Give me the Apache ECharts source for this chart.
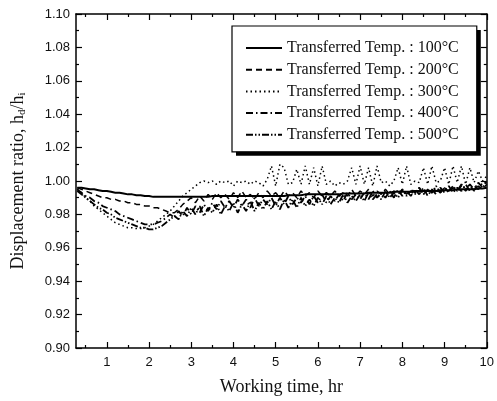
<!DOCTYPE html>
<html>
<head>
<meta charset="utf-8">
<script src="https://cdn.jsdelivr.net/npm/echarts@6/dist/echarts.min.js"></script>
<style>
  html, body { margin: 0; padding: 0; background: #fff; }
  #chart { width: 497px; height: 401px; }
</style>
</head>
<body>
<div id="chart"></div>
<script>
// working time, hr
var hours = [
  0.3, 0.4, 0.5, 0.6, 0.7, 0.8, 0.9,
  1.0, 1.1, 1.2, 1.3, 1.4, 1.5, 1.6, 1.7, 1.8, 1.9,
  2.0, 2.1, 2.2, 2.3, 2.4, 2.5, 2.6, 2.7, 2.8, 2.9,
  3.0, 3.1, 3.2, 3.3, 3.4, 3.5, 3.6, 3.7, 3.8, 3.9,
  4.0, 4.1, 4.2, 4.3, 4.4, 4.5, 4.6, 4.7, 4.8, 4.9,
  5.0, 5.1, 5.2, 5.3, 5.4, 5.5, 5.6, 5.7, 5.8, 5.9,
  6.0, 6.1, 6.2, 6.3, 6.4, 6.5, 6.6, 6.7, 6.8, 6.9,
  7.0, 7.1, 7.2, 7.3, 7.4, 7.5, 7.6, 7.7, 7.8, 7.9,
  8.0, 8.1, 8.2, 8.3, 8.4, 8.5, 8.6, 8.7, 8.8, 8.9,
  9.0, 9.1, 9.2, 9.3, 9.4, 9.5, 9.6, 9.7, 9.8, 9.9,
  10.0
];

// displacement ratio h_d/h_i for each transferred temperature
var temp100 = [
  0.996, 0.996, 0.9955, 0.995, 0.995, 0.9945, 0.994,
  0.994, 0.9935, 0.993, 0.993, 0.9925, 0.992, 0.992, 0.9915, 0.9915, 0.991,
  0.991, 0.9905, 0.9905, 0.9905, 0.9905, 0.9905, 0.9905, 0.9905, 0.9905, 0.9905,
  0.9905, 0.9905, 0.9905, 0.9905, 0.9905, 0.991, 0.991, 0.991, 0.991, 0.991,
  0.991, 0.991, 0.991, 0.991, 0.991, 0.991, 0.991, 0.991, 0.991, 0.991,
  0.991, 0.991, 0.991, 0.9915, 0.9915, 0.9915, 0.9915, 0.992, 0.992, 0.992,
  0.992, 0.992, 0.992, 0.992, 0.992, 0.992, 0.9925, 0.9925, 0.9925, 0.9925,
  0.9925, 0.9925, 0.993, 0.993, 0.993, 0.993, 0.993, 0.993, 0.9935, 0.9935,
  0.9935, 0.9935, 0.9935, 0.994, 0.994, 0.994, 0.994, 0.994, 0.994, 0.9945,
  0.9945, 0.9945, 0.9945, 0.995, 0.995, 0.995, 0.995, 0.995, 0.9955, 0.9955,
  0.996
];
var temp200 = [
  0.996, 0.995, 0.994, 0.993, 0.992, 0.991, 0.990,
  0.990, 0.989, 0.989, 0.988, 0.988, 0.987, 0.987, 0.986, 0.986, 0.985,
  0.985, 0.984, 0.984, 0.983, 0.982, 0.981, 0.981, 0.983, 0.986, 0.988,
  0.990, 0.987, 0.991, 0.988, 0.992, 0.989, 0.993, 0.990, 0.992, 0.989,
  0.993, 0.990, 0.994, 0.990, 0.992, 0.989, 0.993, 0.990, 0.994, 0.991,
  0.993, 0.990, 0.994, 0.991, 0.993, 0.990, 0.994, 0.991, 0.993, 0.990,
  0.994, 0.991, 0.993, 0.991, 0.994, 0.991, 0.993, 0.991, 0.995, 0.991,
  0.994, 0.992, 0.995, 0.991, 0.994, 0.992, 0.995, 0.992, 0.994, 0.992,
  0.995, 0.992, 0.995, 0.993, 0.996, 0.992, 0.995, 0.993, 0.996, 0.993,
  0.996, 0.993, 0.996, 0.994, 0.997, 0.994, 0.997, 0.994, 0.997, 0.995,
  0.998
];
var temp300 = [
  0.995, 0.993, 0.990, 0.988, 0.985, 0.983, 0.981,
  0.979, 0.977, 0.975, 0.974, 0.973, 0.972, 0.972, 0.9715, 0.9715, 0.972,
  0.973, 0.974, 0.976, 0.978, 0.980, 0.982, 0.985, 0.988, 0.991, 0.993,
  0.995, 0.997, 0.999, 1.000, 0.999, 1.000, 0.998, 1.000, 0.999, 1.000,
  0.997, 1.000, 0.999, 1.000, 0.998, 1.000, 0.999, 0.997, 1.001, 1.009,
  0.997, 1.010, 1.008, 0.998, 0.999, 1.007, 0.998, 1.009, 0.998, 1.008,
  0.997, 1.009, 0.998, 1.000, 0.997, 0.999, 0.998, 1.000, 1.008, 0.998,
  1.009, 0.998, 1.008, 0.997, 1.009, 0.999, 1.000, 0.997, 1.000, 1.008,
  0.998, 1.009, 0.998, 1.000, 0.999, 1.008, 0.998, 1.009, 0.999, 1.000,
  1.008, 0.998, 1.009, 0.999, 1.009, 0.998, 1.008, 0.999, 1.006, 1.000,
  1.003
];
var temp400 = [
  0.995, 0.993, 0.991, 0.990, 0.988, 0.987, 0.985,
  0.984, 0.983, 0.982, 0.980, 0.979, 0.978, 0.977, 0.976, 0.975, 0.974,
  0.974, 0.974, 0.975, 0.976, 0.978, 0.980, 0.978, 0.982, 0.979, 0.984,
  0.980, 0.985, 0.981, 0.986, 0.982, 0.987, 0.983, 0.988, 0.984, 0.988,
  0.984, 0.989, 0.985, 0.989, 0.984, 0.990, 0.985, 0.989, 0.986, 0.990,
  0.985, 0.990, 0.986, 0.991, 0.986, 0.990, 0.987, 0.991, 0.986, 0.991,
  0.987, 0.992, 0.987, 0.991, 0.988, 0.992, 0.988, 0.993, 0.989, 0.992,
  0.989, 0.993, 0.989, 0.994, 0.990, 0.993, 0.990, 0.994, 0.990, 0.995,
  0.991, 0.994, 0.991, 0.995, 0.992, 0.996, 0.991, 0.995, 0.992, 0.996,
  0.993, 0.997, 0.993, 0.996, 0.994, 0.998, 0.994, 0.997, 0.995, 0.999,
  0.999
];
var temp500 = [
  0.994, 0.992, 0.990, 0.988, 0.986, 0.984, 0.983,
  0.981, 0.980, 0.978, 0.977, 0.976, 0.975, 0.974, 0.973, 0.972, 0.972,
  0.971, 0.971, 0.972, 0.973, 0.975, 0.977, 0.979, 0.977, 0.982, 0.979,
  0.984, 0.980, 0.985, 0.979, 0.984, 0.981, 0.986, 0.980, 0.985, 0.982,
  0.987, 0.981, 0.986, 0.982, 0.988, 0.982, 0.987, 0.983, 0.988, 0.983,
  0.988, 0.983, 0.989, 0.984, 0.989, 0.984, 0.990, 0.985, 0.989, 0.985,
  0.990, 0.986, 0.991, 0.986, 0.990, 0.987, 0.992, 0.987, 0.991, 0.988,
  0.992, 0.988, 0.993, 0.989, 0.992, 0.989, 0.994, 0.990, 0.993, 0.990,
  0.995, 0.991, 0.994, 0.992, 0.996, 0.992, 0.995, 0.993, 0.997, 0.993,
  0.996, 0.994, 0.997, 0.994, 0.998, 0.995, 0.998, 0.995, 0.999, 0.996,
  1.000
];

var seriesNames = [
  'Transferred Temp. : 100°C',
  'Transferred Temp. : 200°C',
  'Transferred Temp. : 300°C',
  'Transferred Temp. : 400°C',
  'Transferred Temp. : 500°C'
];
var majorHours = [1, 2, 3, 4, 5, 6, 7, 8, 9, 10];
var minorHours = [0.5, 1.5, 2.5, 3.5, 4.5, 5.5, 6.5, 7.5, 8.5, 9.5];

var serif = '"Liberation Serif", "Times New Roman", serif';
var sans = '"Liberation Sans", Arial, sans-serif';

function pairs(vals) {
  return hours.map(function (h, i) { return [h, vals[i]]; });
}

var dashTypes = ['solid', [6, 4], [1.5, 3], [7, 3, 1.5, 3], [7, 2, 1.5, 2, 1.5, 2]];
var widths = [2, 1.5, 1.5, 1.8, 1.8];
var allVals = [temp100, temp200, temp300, temp400, temp500];

var chart = echarts.init(document.getElementById('chart'));

function tickAxis(pos, values, len, withLabels) {
  return {
    type: 'value',
    position: pos,
    min: 0.27,
    max: 10,
    axisLine: { show: withLabels, lineStyle: { color: '#000', width: 1.5 } },
    axisTick: { show: true, inside: true, length: len, customValues: values, lineStyle: { color: '#000', width: 1.2 } },
    axisLabel: withLabels ? {
      show: true, customValues: values, color: '#111', fontFamily: sans, fontSize: 13, margin: 8
    } : { show: false },
    splitLine: { show: false }
  };
}

// legend box; the second copy, offset and filled black, makes the drop shadow
function legendBox(left, top, isShadow) {
  return {
    orient: 'vertical',
    left: left,
    top: top,
    data: seriesNames,
    itemWidth: 36,
    itemHeight: 14,
    itemGap: 5.7,
    padding: [14, 18, 9, 13],
    backgroundColor: isShadow ? '#000' : '#fff',
    borderColor: '#000',
    borderWidth: isShadow ? 0 : 1.2,
    borderRadius: 0,
    z: isShadow ? 4 : 5,
    selectedMode: false,
    itemStyle: { opacity: 0 },
    textStyle: { fontFamily: serif, fontSize: 16, lineHeight: 14, color: '#111' }
  };
}

var xMain = tickAxis('bottom', majorHours, 6, true);
xMain.name = 'Working time, hr';
xMain.nameLocation = 'middle';
xMain.nameGap = 30;
xMain.nameTextStyle = { fontFamily: serif, fontSize: 18, color: '#111' };

var xTop = tickAxis('top', majorHours, 6, false);
xTop.axisLine = { show: true, onZero: false, lineStyle: { color: '#000', width: 1.5 } };

var option = {
  backgroundColor: '#fff',
  animation: false,
  grid: { left: 76, right: 8, top: 14, bottom: 48, containLabel: false },
  legend: [legendBox(236, 30, true), legendBox(232, 26, false)],
  xAxis: [
    xMain,
    tickAxis('bottom', minorHours, 3, false),
    xTop,
    tickAxis('top', minorHours, 3, false)
  ],
  yAxis: [
    {
      type: 'value',
      position: 'left',
      min: 0.9,
      max: 1.1,
      interval: 0.02,
      axisLine: { show: true, lineStyle: { color: '#000', width: 1.5 } },
      axisTick: { show: true, inside: true, length: 6, lineStyle: { color: '#000', width: 1.2 } },
      minorTick: { show: true, splitNumber: 2, length: 3, lineStyle: { color: '#000', width: 1.2 } },
      axisLabel: {
        color: '#111', fontFamily: sans, fontSize: 13, margin: 6,
        formatter: function (v) { return v.toFixed(2); }
      },
      splitLine: { show: false },
      name: '{t|Displacement ratio, h}{s|d}{t|/h}{s|i}',
      nameLocation: 'middle',
      nameRotate: 90,
      nameGap: 48,
      nameTextStyle: {
        rich: {
          t: { fontFamily: serif, fontSize: 18, color: '#111' },
          s: { fontFamily: serif, fontSize: 11, color: '#111', padding: [8, 0, 0, 0] }
        }
      }
    },
    {
      type: 'value',
      position: 'right',
      min: 0.9,
      max: 1.1,
      interval: 0.02,
      axisLine: { show: true, lineStyle: { color: '#000', width: 1.5 } },
      axisTick: { show: true, inside: true, length: 6, lineStyle: { color: '#000', width: 1.2 } },
      minorTick: { show: true, splitNumber: 2, length: 3, lineStyle: { color: '#000', width: 1.2 } },
      axisLabel: { show: false },
      splitLine: { show: false }
    }
  ],
  series: allVals.map(function (vals, i) {
    return {
      name: seriesNames[i],
      type: 'line',
      xAxisIndex: 0,
      yAxisIndex: 0,
      data: pairs(vals),
      symbol: 'none',
      showSymbol: false,
      color: '#000',
      lineStyle: { color: '#000', width: widths[i], type: dashTypes[i] },
      z: 2
    };
  })
};

chart.setOption(option);
window.addEventListener('resize', function () {
  chart.resize();
});
</script>
</body>
</html>
